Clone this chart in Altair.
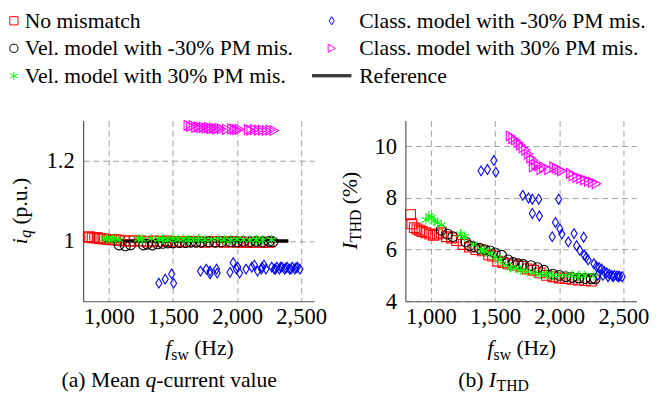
import altair as alt
import pandas as pd

FONT = "Liberation Serif"
FS = 22
TICK_FS = 23
SUB = 16

S_NO = "No mismatch"
S_VM = "Vel. model with -30% PM mis."
S_VP = "Vel. model with 30% PM mis."
S_CM = "Class. model with -30% PM mis."
S_CP = "Class. model with 30% PM mis."
S_REF = "Reference"

# ---- No mismatch (red squares)
no_fsw = [840, 850, 870, 890, 910, 930, 960, 990, 1020, 1050, 1080, 1120, 1160, 1200, 1250, 1300,
          1350, 1400, 1450, 1480, 1520, 1560, 1600, 1650, 1700, 1750, 1800, 1850, 1900, 1950, 2000,
          2050, 2100, 2150, 2200, 2250]
no_iq = [1.01, 1.01, 1.008, 1.008, 1.008, 1.006, 1.005, 1.004, 1.003, 1.003, 1.002, 1.0, 1.0, 1.0,
         1.0, 0.998, 1.0, 0.999, 1.0, 0.998, 0.999, 0.998, 0.998, 0.999, 0.998, 0.997, 0.998, 0.998,
         0.997, 0.998, 0.997, 0.997, 0.996, 0.997, 0.996, 0.997]
no_thd = [7.35, 7.0, 6.85, 6.8, 6.75, 6.7, 6.65, 6.6, 6.55, 6.6, 6.65, 6.5, 6.45, 6.35, 6.2, 6.1,
          6.0, 5.95, 5.8, 5.75, 5.55, 5.5, 5.45, 5.4, 5.35, 5.25, 5.2, 5.1, 5.0, 4.95, 4.9, 4.88,
          4.85, 4.82, 4.8, 4.78]

# ---- Velocity model, -30% PM mismatch (black circles)
vm_fsw = [1080, 1130, 1170, 1270, 1300, 1340, 1380, 1420, 1460, 1500, 1550, 1600, 1640, 1680, 1720,
          1780, 1830, 1880, 1950, 2000, 2050, 2100, 2150, 2200, 2250, 2280]
vm_iq = [0.99, 0.988, 0.99, 0.99, 0.992, 0.99, 0.993, 0.994, 0.995, 0.995, 0.996, 0.996, 0.997,
         0.997, 0.997, 0.998, 0.997, 0.998, 0.998, 0.998, 0.999, 0.998, 0.999, 0.998, 0.999, 0.998]
vm_thd = [6.75, 6.6, 6.5, 6.3, 6.15, 6.1, 6.05, 6.0, 5.95, 5.87, 5.78, 5.6, 5.5, 5.45, 5.42, 5.38,
          5.3, 5.2, 5.05, 5.0, 4.95, 4.92, 4.9, 4.88, 4.87, 4.87]

# ---- Velocity model, +30% PM mismatch (green asterisks)
vp_fsw = [960, 985, 1005, 1025, 1050, 1080, 1230, 1260, 1330, 1390, 1420, 1460, 1500, 1540, 1580,
          1620, 1660, 1700, 1750, 1800, 1850, 1900, 1950, 2000, 2050, 2100, 2150, 2200, 2270]
vp_iq = [1.006, 1.005, 1.008, 1.004, 1.006, 1.003, 1.005, 1.004, 1.006, 1.004, 1.005, 1.003, 1.006,
         1.004, 1.005, 1.003, 1.004, 1.005, 1.003, 1.004, 1.005, 1.003, 1.002, 1.004, 1.003, 1.002,
         1.003, 1.002, 1.003]
vp_thd = [7.15, 7.3, 7.25, 7.1, 7.05, 6.95, 6.6, 6.5, 6.2, 6.0, 5.95, 5.85, 5.7, 5.6, 5.4, 5.3,
          5.28, 5.2, 5.15, 5.1, 5.05, 5.05, 5.0, 5.0, 5.0, 5.0, 4.98, 5.0, 4.98]

# ---- Classical model, -30% PM mismatch (blue diamonds)
cm_fsw = [1390, 1440, 1490, 1505, 1715, 1760, 1790, 1840, 1790, 1845, 1995, 1970, 2005, 2020, 1945,
          2070, 2115, 2135, 2160, 2195, 2190, 2210, 2225, 2270, 2290, 2310, 2330, 2350, 2370, 2390,
          2410, 2430, 2450, 2470, 2490, 2300, 2340, 2380, 2420, 2460]
cm_iq = [0.895, 0.905, 0.918, 0.895, 0.925, 0.93, 0.925, 0.93, 0.918, 0.92, 0.93, 0.946, 0.935,
         0.92, 0.922, 0.93, 0.935, 0.94, 0.925, 0.935, 0.93, 0.94, 0.93, 0.935, 0.93, 0.935, 0.93,
         0.935, 0.93, 0.935, 0.93, 0.935, 0.93, 0.935, 0.93, 0.93, 0.935, 0.932, 0.93, 0.933]
cm_thd = [9.05, 9.1, 9.45, 9.0, 8.1, 8.0, 7.95, 7.95, 7.4, 7.3, 7.95, 7.05, 6.8, 6.6, 6.5, 6.3,
          6.62, 6.15, 5.97, 5.78, 6.48, 5.7, 5.6, 5.45, 5.35, 5.3, 5.25, 5.15, 5.1, 5.05, 5.0, 5.0,
          4.98, 4.97, 4.95, 5.0, 5.0, 4.95, 4.95, 4.95]

# ---- Classical model, +30% PM mismatch (magenta triangles)
cp_fsw = [1620, 1640, 1660, 1680, 1700, 1720, 1740, 1760, 1780, 1800, 1800, 1820, 1840, 1860, 1880,
          1920, 1960, 1980, 2000, 2020, 2090, 2110, 2140, 2170, 2200, 2230, 2260, 2290]
cp_iq = [1.288, 1.285, 1.287, 1.283, 1.284, 1.282, 1.283, 1.281, 1.282, 1.28, 1.28, 1.281, 1.279,
         1.28, 1.279, 1.278, 1.279, 1.278, 1.277, 1.278, 1.277, 1.276, 1.277, 1.276, 1.276, 1.275,
         1.276, 1.275]
cp_thd = [10.4, 10.3, 10.25, 10.15, 10.05, 9.95, 9.85, 9.7, 9.55, 9.45, 9.2, 9.3, 9.25, 9.1, 9.2,
          9.1, 9.2, 9.15, 9.1, 9.05, 8.95, 8.85, 8.8, 8.75, 8.7, 8.65, 8.6, 8.55]

# ---- Reference (black line, left panel)
ref_fsw = [950, 2400]
ref_iq = [1.0, 1.0]

x_ticks = [1000, 1500, 2000, 2500]
iq_ticks = [1.0, 1.2]
thd_ticks = [4, 6, 8, 10]

ASTER = "M0,-1V1M-0.87,-0.5L0.87,0.5M-0.87,0.5L0.87,-0.5"
DIAMOND = "M0,-1L0.62,0L0,1L-0.62,0Z"
LINE = "M-4.8,-0.25H4.8M-4.8,0H4.8M-4.8,0.25H4.8"


def frame(name, fsw, iq, thd):
    return pd.DataFrame({"series": name, "fsw": fsw, "iq": iq, "thd": thd})


g1 = pd.concat([frame(S_NO, no_fsw, no_iq, no_thd),
                frame(S_VM, vm_fsw, vm_iq, vm_thd),
                frame(S_VP, vp_fsw, vp_iq, vp_thd)], ignore_index=True)
g2 = pd.concat([frame(S_CM, cm_fsw, cm_iq, cm_thd),
                frame(S_CP, cp_fsw, cp_iq, cp_thd)], ignore_index=True)
ref = pd.DataFrame({"fsw": ref_fsw, "iq": ref_iq})

W, H = 235, 184

AXIS_STYLE = dict(title=None, labelFont=FONT, labelFontSize=TICK_FS, labelColor="black",
                  grid=True, gridDash=[6, 4], gridColor="#a0a0a0", gridWidth=1,
                  domainColor="#555555", domainWidth=1.2, ticks=False)


def txt(text, x, y, size=FS, style="normal", angle=0, align="left"):
    return alt.Chart(alt.Data(values=[{}])).mark_text(
        text=text, font=FONT, fontSize=size, fontStyle=style, angle=angle,
        align=align, baseline="alphabetic", color="black"
    ).encode(x=alt.value(x), y=alt.value(y))


def panel(ycol, ydom, yticks, yfmt, with_legend, texts, with_ref):
    X = alt.X("fsw:Q", scale=alt.Scale(domain=[800, 2600], nice=False),
              axis=alt.Axis(values=x_ticks, format=",d", labelPadding=5, **AXIS_STYLE))
    yaxis = alt.Axis(values=yticks, format=yfmt, labelPadding=9, **AXIS_STYLE)
    Y = alt.Y(f"{ycol}:Q", scale=alt.Scale(domain=ydom, nice=False, zero=False), axis=yaxis)
    if with_legend:
        common = dict(title=None, orient="none", legendY=-112.5, rowPadding=6, symbolSize=70,
                      labelFont=FONT, labelFontSize=FS, labelColor="black", labelLimit=0,
                      symbolStrokeWidth=1)
        leg1 = alt.Legend(legendX=-81.5, labelOffset=0, **common)
        leg2 = alt.Legend(legendX=242, labelOffset=17, **common)
    else:
        leg1 = None
        leg2 = None
    d1 = [S_NO, S_VM, S_VP]
    d2 = [S_CM, S_CP, S_REF]
    p1 = alt.Chart(g1).mark_point(filled=False, size=100, strokeWidth=1.1, opacity=1).encode(
        x=X, y=Y,
        color=alt.Color("series:N", scale=alt.Scale(domain=d1, range=["#ff0000", "#000000", "#00ff00"]),
                        legend=leg1),
        shape=alt.Shape("series:N", scale=alt.Scale(domain=d1, range=["square", "circle", ASTER]),
                        legend=leg1),
    )
    p2 = alt.Chart(g2).mark_point(filled=False, size=100, strokeWidth=1.1, opacity=1).encode(
        x=X, y=Y,
        color=alt.Color("series:N", scale=alt.Scale(domain=d2, range=["#0000ff", "#ff00ff", "#000000"]),
                        legend=leg2),
        shape=alt.Shape("series:N", scale=alt.Scale(domain=d2, range=[DIAMOND, "triangle-right", LINE]),
                        legend=leg2),
    )
    layers = []
    if with_ref:
        layers.append(alt.Chart(ref).mark_line(color="black", strokeWidth=3.5).encode(
            x=X, y=alt.Y("iq:Q", scale=alt.Scale(domain=ydom, nice=False, zero=False), axis=yaxis)))
    layers += [p1, p2] + texts
    return alt.layer(*layers).resolve_scale(color="independent", shape="independent").properties(
        width=W, height=H)


# axis titles and captions (positions relative to each plot area)
left_texts = [
    txt("f", 89.7, 239, style="italic", align="right"),
    txt("sw", 107.5, 243.5, size=SUB, align="right"),
    txt("(Hz)", 113, 239),
    txt("i", -57, 126, style="italic", angle=270),
    txt("q", -53, 119.5, size=SUB, style="italic", angle=270),
    txt("(p.u.)", -57, 106, angle=270),
    txt("(a) Mean", 58, 271, align="right"),
    txt("q", 63.5, 271, style="italic"),
    txt("-current value", 74.5, 271),
]
right_texts = [
    txt("f", 89.7, 239, style="italic", align="right"),
    txt("sw", 107.5, 243.5, size=SUB, align="right"),
    txt("(Hz)", 113, 239),
    txt("I", -49, 131.4, style="italic", angle=270),
    txt("THD", -45, 123.6, size=SUB, angle=270),
    txt("(%)", -49, 85.2, angle=270),
    txt("(b)", 79.5, 271, align="right"),
    txt("I", 85, 271, style="italic"),
    txt("THD", 92.8, 275.5, size=SUB),
]

left = panel("iq", [0.85, 1.3], iq_ticks, "~g", True, left_texts, True)
right = panel("thd", [4, 11], thd_ticks, "d", False, right_texts, False)

chart = alt.hconcat(left, right, spacing=93, bounds="flush").properties(
    padding={"left": -5.5, "top": -2, "right": 0, "bottom": 0}
).configure(font=FONT).configure_view(stroke=None).configure_axis(
    labelFont=FONT, labelFontSize=TICK_FS, labelColor="black",
).configure_legend(
    labelFont=FONT, labelFontSize=FS, labelColor="black", symbolStrokeWidth=1, labelLimit=0,
).configure_text(font=FONT)

chart.save("out.html", embed_options={"renderer": "svg", "actions": False})
